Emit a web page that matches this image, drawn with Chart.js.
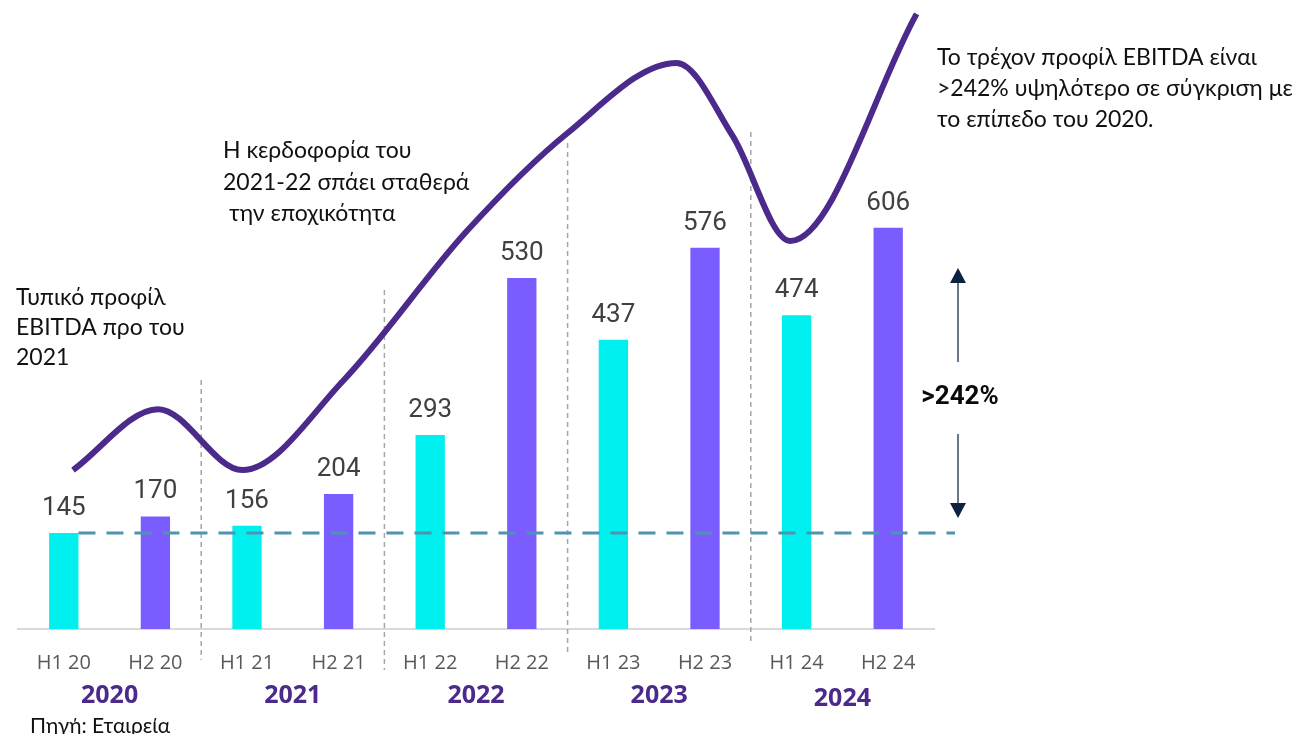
<!DOCTYPE html>
<html lang="el">
<head>
    <meta charset="UTF-8">
    <title>EBITDA</title>
    <script src="https://cdn.jsdelivr.net/npm/chart.js"></script>
    <style>
        html, body { margin: 0; padding: 0; background: #fff; }
        #wrap { width: 1294px; height: 734px; position: relative; }
    </style>
</head>
<body>
    <div id="wrap"><canvas id="ebitdaChart"></canvas></div>

    <script>
        // Data
        const periods = ['H1 20', 'H2 20', 'H1 21', 'H2 21', 'H1 22', 'H2 22', 'H1 23', 'H2 23', 'H1 24', 'H2 24'];
        const ebitda = [145, 170, 156, 204, 293, 530, 437, 576, 474, 606];
        const years = ['2020', '2021', '2022', '2023', '2024'];
        const baseLevel = 145;

        // decorative seasonality curve (x = period index, y = value units)
        const curveX = [0.10, 1.03, 1.95, 3.05, 4.40, 5.49, 6.69, 7.30, 7.93, 9.31];
        const curveY = [240, 332, 240, 375, 601, 748, 855, 745, 586, 929];

        const cyan = '#00EFEF';
        const violet = '#7A5CFF';
        const darkPurple = '#4B2A8C';

        const barColors = periods.map((p, i) => i % 2 === 0 ? cyan : violet);

        const overlay = {
            id: 'overlay',
            beforeDatasetsDraw(chart) {
                const ctx = chart.ctx;
                const x = chart.scales.x;
                // dashed separators between years
                const seps = [[1, 380, 660], [3, 290, 670], [5, 143, 655], [7, 132, 644]];
                ctx.save();
                ctx.strokeStyle = '#a6a6a6';
                ctx.lineWidth = 1.5;
                ctx.setLineDash([5, 4]);
                seps.forEach(([i, top, bottom]) => {
                    const px = (x.getPixelForValue(i) + x.getPixelForValue(i + 1)) / 2;
                    ctx.beginPath();
                    ctx.moveTo(px, top);
                    ctx.lineTo(px, bottom);
                    ctx.stroke();
                });
                ctx.restore();
            },
            afterDatasetsDraw(chart) {
                const ctx = chart.ctx;
                const x = chart.scales.x;
                const y = chart.scales.y;
                const bars = chart.getDatasetMeta(0).data;

                // reference line at 2020 level
                ctx.save();
                ctx.strokeStyle = '#4F93B0';
                ctx.lineWidth = 3;
                ctx.setLineDash([17, 11]);
                const ly = y.getPixelForValue(baseLevel);
                ctx.beginPath();
                ctx.moveTo(bars[0].x + bars[0].width / 2, ly);
                ctx.lineTo(chart.chartArea.right + 21, ly);
                ctx.stroke();
                ctx.restore();

                // value labels
                ctx.save();
                ctx.font = '26px Roboto';
                ctx.fillStyle = '#404040';
                ctx.textAlign = 'center';
                ctx.textBaseline = 'alphabetic';
                bars.forEach((b, i) => {
                    ctx.fillText(String(ebitda[i]), b.x, b.y - 18);
                });

                // year labels
                ctx.font = 'bold 25px "Open Sans"';
                ctx.fillStyle = darkPurple;
                ctx.textBaseline = 'middle';
                years.forEach((yr, k) => {
                    const cx = (x.getPixelForValue(2 * k) + x.getPixelForValue(2 * k + 1)) / 2;
                    ctx.fillText(yr, cx, k === 4 ? 699 : 696);
                });

                // text notes
                ctx.font = '23px Lato';
                ctx.fillStyle = '#111';
                ctx.textAlign = 'left';
                ctx.textBaseline = 'middle';
                const note = (lines, x0, y0, dy) => lines.forEach((t, i) => ctx.fillText(t, x0, y0 + i * dy));
                note(['Τυπικό προφίλ', 'EBITDA προ του', '2021'], 16, 298, 30);
                note(['Η κερδοφορία του', '2021-22 σπάει σταθερά', ' την εποχικότητα'], 223, 151, 31.5);
                note(['Το τρέχον προφίλ EBITDA είναι', '>242% υψηλότερο σε σύγκριση με', 'το επίπεδο του 2020.'], 937, 58, 31);
                ctx.font = '21px Lato';
                ctx.fillText('Πηγή: Εταιρεία', 30, 726);

                // growth arrow
                const ax = 958;
                ctx.strokeStyle = '#3A4A62';
                ctx.fillStyle = '#0D2240';
                ctx.lineWidth = 1.5;
                ctx.beginPath();
                ctx.moveTo(ax, 282); ctx.lineTo(ax, 362);
                ctx.moveTo(ax, 434); ctx.lineTo(ax, 504);
                ctx.stroke();
                ctx.beginPath();
                ctx.moveTo(ax, 268); ctx.lineTo(ax - 8, 283); ctx.lineTo(ax + 8, 283); ctx.closePath();
                ctx.fill();
                ctx.beginPath();
                ctx.moveTo(ax, 518); ctx.lineTo(ax - 8, 503); ctx.lineTo(ax + 8, 503); ctx.closePath();
                ctx.fill();
                ctx.font = 'bold 26px Roboto';
                ctx.fillStyle = '#0a0a0a';
                ctx.textAlign = 'center';
                ctx.fillText('>242%', 960, 397);
                ctx.restore();
            }
        };

        new Chart(document.getElementById('ebitdaChart'), {
            data: {
                labels: periods,
                datasets: [
                    {
                        type: 'bar',
                        data: ebitda,
                        backgroundColor: barColors,
                        categoryPercentage: 1,
                        barPercentage: 0.32,
                        grouped: false,
                        xAxisID: 'x',
                        order: 2
                    },
                    {
                        type: 'line',
                        data: curveX.map((v, i) => ({ x: v, y: curveY[i] })),
                        borderColor: darkPurple,
                        borderWidth: 6,
                        pointRadius: 0,
                        cubicInterpolationMode: 'monotone',
                        xAxisID: 'xc',
                        clip: false,
                        order: 1
                    }
                ]
            },
            options: {
                responsive: true,
                maintainAspectRatio: false,
                animation: false,
                layout: { padding: { left: 18, right: 360, top: 0, bottom: 37 } },
                plugins: { legend: { display: false }, tooltip: { enabled: false } },
                scales: {
                    x: {
                        type: 'category',
                        offset: true,
                        grid: { display: false, drawTicks: false },
                        border: { display: true, color: '#d9d9d9', width: 2 },
                        ticks: { font: { family: 'Open Sans', size: 20 }, color: '#595959', padding: 22 }
                    },
                    xc: { type: 'linear', display: false, min: -0.5, max: 9.5 },
                    y: { display: false, min: 0, max: 950 }
                }
            },
            plugins: [overlay]
        });
    </script>
</body>
</html>
